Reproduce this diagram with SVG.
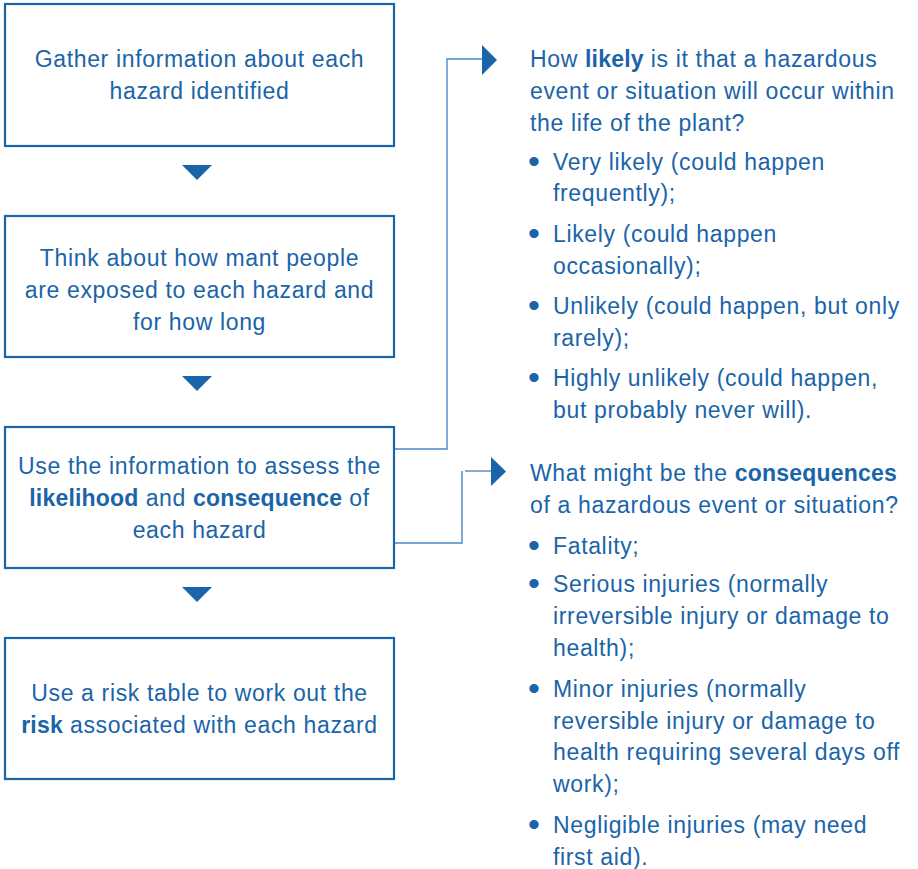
<svg xmlns="http://www.w3.org/2000/svg" width="918" height="869" viewBox="0 0 918 869">
<style>
.box{fill:#fff;stroke:#1a64a9;stroke-width:2.2}
.tri{fill:#1a64a9}
.con{fill:none;stroke:#4d88c2;stroke-width:1.4}
text{font-family:"Liberation Sans",Arial,sans-serif;font-size:23px;letter-spacing:0.65px;fill:#1a64a9}
.c{text-anchor:middle}
.b{font-weight:bold;letter-spacing:0.2px}
.d{font-size:34px;letter-spacing:0}
</style>
<rect width="918" height="869" fill="#fff"/>
<g id="connectors">
<polyline class="con" points="394,449 447,449 447,59 483,59"/>
<polygon class="tri" points="482,45 497,60 482,75"/>
<polyline class="con" points="394,543 462,543 462,471"/>
<line class="con" x1="465" y1="471" x2="492" y2="471"/>
<polygon class="tri" points="491,457 506,471.5 491,486"/>
<polygon class="tri" points="182,165 212,165 197,180"/>
<polygon class="tri" points="182,376 212,376 197,391"/>
<polygon class="tri" points="182,587 212,587 197,602"/>
</g>
<g id="n1">
<rect class="box" x="5" y="4" width="389" height="142"/>
<text class="c" x="199.5" y="67">Gather information about each</text>
<text class="c" x="199.5" y="99">hazard identified</text>
</g>
<g id="n2">
<rect class="box" x="5" y="216" width="389" height="141"/>
<text class="c" x="199.5" y="266">Think about how mant people</text>
<text class="c" x="199.5" y="298">are exposed to each hazard and</text>
<text class="c" x="199.5" y="330">for how long</text>
</g>
<g id="n3">
<rect class="box" x="5" y="427" width="389" height="141"/>
<text class="c" x="199.5" y="474">Use the information to assess the</text>
<text class="c" x="199.5" y="506"><tspan class="b">likelihood</tspan> and <tspan class="b">consequence</tspan> of</text>
<text class="c" x="199.5" y="538">each hazard</text>
</g>
<g id="n4">
<rect class="box" x="5" y="638" width="389" height="141"/>
<text class="c" x="199.5" y="701">Use a risk table to work out the</text>
<text class="c" x="199.5" y="733"><tspan class="b">risk</tspan> associated with each hazard</text>
</g>
<g id="likely">
<text x="530" y="67">How <tspan class="b">likely</tspan> is it that a hazardous</text>
<text x="530" y="99">event or situation will occur within</text>
<text x="530" y="131">the life of the plant?</text>
<text class="d" x="528" y="173">•</text><text x="553" y="170">Very likely (could happen</text>
<text x="553" y="201">frequently);</text>
<text class="d" x="528" y="245">•</text><text x="553" y="242">Likely (could happen</text>
<text x="553" y="274">occasionally);</text>
<text class="d" x="528" y="317">•</text><text x="553" y="314">Unlikely (could happen, but only</text>
<text x="553" y="346">rarely);</text>
<text class="d" x="528" y="389">•</text><text x="553" y="386">Highly unlikely (could happen,</text>
<text x="553" y="418">but probably never will).</text>
</g>
<g id="consequences">
<text x="530" y="481">What might be the <tspan class="b">consequences</tspan></text>
<text x="530" y="513">of a hazardous event or situation?</text>
<text class="d" x="528" y="557">•</text><text x="553" y="554">Fatality;</text>
<text class="d" x="528" y="595">•</text><text x="553" y="592">Serious injuries (normally</text>
<text x="553" y="624">irreversible injury or damage to</text>
<text x="553" y="656">health);</text>
<text class="d" x="528" y="700">•</text><text x="553" y="697">Minor injuries (normally</text>
<text x="553" y="729">reversible injury or damage to</text>
<text x="553" y="760">health requiring several days off</text>
<text x="553" y="792">work);</text>
<text class="d" x="528" y="836">•</text><text x="553" y="833">Negligible injuries (may need</text>
<text x="553" y="865">first aid).</text>
</g>
</svg>
